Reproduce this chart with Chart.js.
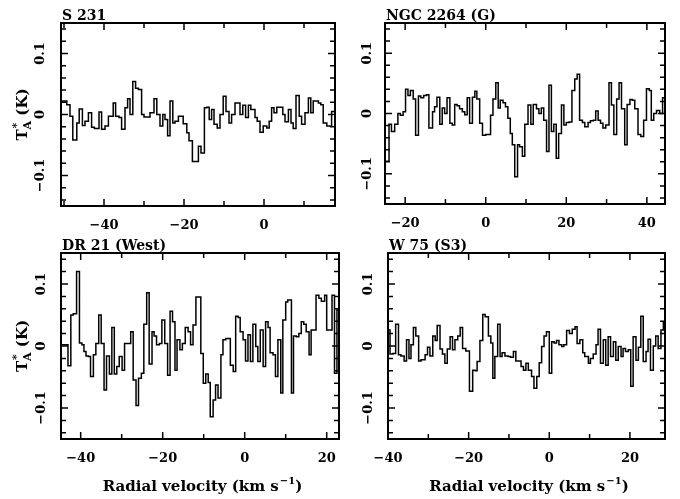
<!DOCTYPE html>
<html>
<head>
<meta charset="utf-8">
<script src="https://cdn.jsdelivr.net/npm/chart.js@4.4.1/dist/chart.umd.min.js"></script>
<style>
  html, body { margin: 0; padding: 0; background: #fff; }
  #wrap { position: relative; width: 680px; height: 499px; }
  canvas { position: absolute; left: 0; top: 0; }
</style>
</head>
<body>
<div id="wrap">
  <canvas id="c0" width="680" height="499"></canvas>
  <canvas id="c1" width="680" height="499"></canvas>
  <canvas id="c2" width="680" height="499"></canvas>
  <canvas id="c3" width="680" height="499"></canvas>
</div>
<script>
// Spectra: left edge of each channel (km/s) and antenna temperature (K)

// S 231
const s231Vel = [-50.75, -49.3, -48.5, -47.8, -46.8, -46.2, -45.4, -44.75, -43.9, -43.1,
  -42.4, -41.25, -40.6, -39.75, -38.9, -37.7, -37.1, -36.25, -35.6, -34.75,
  -34.1, -33.5, -32.8, -32.1, -31.4, -30.6, -30, -28.5, -27.5, -26.8,
  -26, -25.3, -24.75, -24.1, -23.5, -22.8, -22.25, -21.4, -20.75, -20.2,
  -19.3, -18.75, -17.9, -16.4, -15.75, -14.9, -14.3, -13.7, -13.1, -12.5,
  -11.7, -11, -10.2, -9.5, -8.75, -8.1, -7.25, -6, -5.3, -4.6,
  -3.9, -3.3, -2.25, -1.7, -1, -0.2, 0.7, 1.3, 1.9, 2.5,
  3.2, 4.7, 5.25, 6.1, 6.75, 7.3, 8, 8.8, 9.4, 10.25,
  11.1, 11.7, 12.3, 13.6, 14.2, 14.8, 15.7, 16.9];
const s231Ta = [0.022, 0.016, -0.003, -0.042, -0.014, 0.009, -0.018, -0.011, 0.003, -0.021,
  -0.023, 0.004, -0.024, -0.019, -0.003, 0.019, -0.003, -0.005, -0.024, 0.011,
  0.026, 0.000, 0.054, 0.043, 0.041, 0.000, -0.004, 0.003, 0.026, 0.000,
  -0.019, 0.000, -0.008, -0.035, 0.022, -0.014, -0.011, -0.003, -0.003, -0.015,
  -0.030, -0.043, -0.077, -0.052, -0.063, 0.011, 0.012, -0.008, 0.008, -0.016,
  -0.022, 0.000, 0.030, 0.005, -0.014, 0.000, 0.019, 0.000, 0.015, -0.005,
  0.015, 0.008, -0.005, -0.011, -0.029, -0.019, -0.022, -0.011, 0.011, 0.003,
  0.012, 0.000, -0.012, 0.008, -0.014, -0.023, 0.031, -0.003, -0.016, 0.003,
  0.027, 0.003, 0.022, 0.019, 0.016, -0.014, -0.019, 0.005];
const s231Ticks = [-40, -20, 0];

// NGC 2264 (G)
const ngcVel = [-25.0, -24.0, -23.4, -22.6, -21.8, -21.2, -20.5, -19.9, -19.3, -18.7,
  -18.0, -17.4, -16.7, -16.1, -15.4, -14.7, -14.1, -13.2, -12.7, -12.1,
  -11.4, -10.8, -10.2, -9.6, -8.9, -8.3, -7.7, -7.1, -6.5, -5.8,
  -5.2, -4.6, -4.0, -3.3, -2.7, -2.2, -1.5, -0.8, 0.0, 1.2,
  1.8, 2.5, 3.1, 3.6, 4.3, 4.9, 5.5, 6.1, 6.6, 7.2,
  7.9, 8.4, 9.1, 9.7, 10.5, 11.2, 11.8, 12.6, 13.2, 13.8,
  14.4, 15.1, 15.7, 16.3, 16.9, 17.5, 18.1, 18.8, 19.4, 20.0,
  20.7, 21.4, 22.1, 22.7, 23.3, 24.0, 24.6, 25.4, 26.0, 26.7,
  27.3, 27.9, 28.5, 29.1, 29.8, 30.6, 31.2, 31.8, 32.5, 33.1,
  33.7, 34.5, 35.1, 35.8, 36.4, 37.0, 37.8, 38.5, 39.2, 39.9,
  40.6, 41.1, 41.7, 42.4, 43.2, 43.9];
const ngcTa = [-0.079, -0.018, -0.030, -0.018, 0.000, -0.003, 0.003, 0.040, 0.030, 0.038,
  0.024, -0.036, 0.029, 0.026, 0.030, 0.031, -0.024, 0.003, 0.011, 0.027,
  -0.018, 0.009, 0.000, 0.026, -0.016, -0.019, 0.015, 0.013, 0.008, 0.003,
  -0.002, 0.026, -0.016, 0.027, 0.037, 0.024, -0.016, -0.036, -0.035, -0.003,
  0.024, 0.051, 0.009, 0.022, 0.018, 0.011, -0.008, -0.033, -0.052, -0.105,
  -0.052, -0.055, -0.071, -0.018, 0.014, -0.018, 0.015, 0.008, 0.000, 0.009,
  -0.011, -0.063, 0.047, -0.030, -0.018, -0.074, -0.033, 0.014, -0.019, -0.015,
  -0.014, 0.038, 0.057, 0.065, -0.011, -0.015, -0.022, -0.015, -0.012, -0.011,
  0.004, -0.011, -0.016, -0.024, -0.019, 0.051, 0.014, -0.035, 0.024, 0.051,
  0.008, -0.052, 0.015, 0.023, 0.022, 0.008, -0.035, -0.038, -0.011, 0.041,
  0.038, -0.011, 0.000, 0.005, 0.000, 0.026];
const ngcTicks = [-20, 0, 20, 40];

// DR 21 (West)
const dr21Vel = [-44.8, -43.1, -42.4, -41.8, -41.0, -40.3, -39.7, -39.2, -38.7, -38.1,
  -37.6, -36.9, -36.3, -35.6, -35.0, -34.3, -33.7, -33.0, -32.4, -31.8,
  -31.2, -30.6, -29.9, -29.3, -27.8, -27.2, -26.5, -25.9, -25.2, -24.6,
  -23.9, -23.3, -22.6, -22.1, -21.5, -20.8, -20.2, -19.5, -18.8, -18.2,
  -17.6, -17.0, -16.5, -15.8, -15.2, -14.5, -13.8, -13.2, -12.6, -11.9,
  -10.7, -10.1, -9.5, -8.9, -8.4, -7.7, -7.1, -6.5, -5.8, -5.3,
  -4.6, -3.5, -2.8, -2.2, -1.6, -1.1, -0.4, 0.2, 0.8, 1.4,
  2.0, 2.7, 3.2, 3.8, 4.5, 5.1, 5.7, 6.2, 6.9, 7.5,
  8.1, 8.8, 9.3, 10.0, 10.5, 11.4, 11.9, 12.6, 13.2, 13.8,
  14.4, 15.0, 15.7, 16.2, 16.8, 17.4, 18.1, 18.7, 19.5, 20.0,
  20.7, 21.3, 21.9, 22.5];
const dr21Ta = [0.002, -0.032, 0.050, 0.052, 0.120, 0.005, 0.002, -0.009, -0.016, -0.017,
  -0.049, -0.014, 0.004, 0.050, 0.004, -0.071, -0.016, -0.045, 0.030, -0.045,
  -0.033, -0.017, -0.039, 0.004, 0.023, -0.055, -0.096, -0.052, -0.044, 0.035,
  0.086, -0.029, 0.023, 0.016, 0.002, 0.004, 0.042, 0.004, -0.047, 0.056,
  0.039, -0.039, 0.010, -0.006, 0.004, 0.030, 0.023, 0.002, 0.034, 0.079,
  -0.012, -0.060, -0.045, -0.059, -0.114, -0.087, -0.063, -0.084, -0.014, 0.010,
  0.012, -0.031, -0.041, 0.048, 0.046, 0.023, 0.010, -0.024, 0.018, -0.025,
  0.035, -0.001, -0.025, 0.026, -0.033, 0.039, 0.030, -0.011, -0.014, -0.049,
  0.010, -0.076, 0.042, 0.071, 0.074, -0.076, 0.016, 0.015, 0.020, 0.039,
  0.035, 0.023, -0.014, 0.026, 0.026, 0.082, 0.077, 0.072, 0.082, 0.026,
  0.026, 0.082, -0.044, 0.058];
const dr21Ticks = [-40, -20, 0, 20];

// W 75 (S3)
const w75Vel = [-40.0, -39.5, -38.8, -38.1, -37.4, -36.8, -36.0, -35.4, -34.8, -34.3,
  -33.7, -33.1, -32.4, -31.8, -30.8, -30.2, -29.6, -28.9, -28.3, -27.8,
  -27.1, -26.5, -25.9, -25.3, -24.6, -24.0, -23.4, -22.7, -22.1, -21.5,
  -20.7, -19.8, -19.0, -18.4, -17.9, -17.2, -16.5, -15.9, -15.1, -14.5,
  -14.0, -13.5, -12.8, -12.2, -11.7, -11.0, -10.2, -9.6, -8.9, -8.3,
  -7.7, -7.0, -6.4, -5.8, -5.2, -4.4, -3.8, -3.1, -2.5, -1.9,
  -1.3, -0.7, 0.0, 0.6, 1.2, 1.8, 2.4, 3.1, 3.6, 4.3,
  5.0, 5.7, 6.4, 6.9, 7.6, 8.3, 8.8, 9.7, 10.2, 10.9,
  11.6, 12.1, 12.7, 13.4, 14.0, 14.6, 15.2, 15.9, 16.5, 17.1,
  17.8, 18.3, 18.9, 19.6, 20.2, 20.8, 21.5, 22.1, 22.7, 23.3,
  24.0, 24.5, 25.1, 25.8, 26.4, 27.0, 27.7, 28.3];
const w75Ta = [0.026, -0.013, -0.012, 0.035, -0.014, -0.016, -0.024, 0.010, -0.020, 0.002,
  0.030, 0.016, -0.024, -0.022, -0.014, -0.002, -0.016, 0.016, 0.009, 0.033,
  -0.005, -0.013, -0.028, -0.005, 0.015, -0.006, 0.010, 0.016, 0.030, -0.004,
  -0.008, -0.073, -0.039, -0.040, -0.025, 0.009, 0.051, 0.047, 0.016, 0.005,
  -0.052, -0.017, 0.035, -0.017, -0.011, -0.016, -0.017, -0.018, -0.009, -0.024,
  -0.024, -0.033, -0.039, -0.028, -0.039, -0.049, -0.068, -0.049, -0.027, -0.001,
  0.016, 0.023, -0.044, 0.007, 0.005, 0.009, 0.002, -0.001, 0.002, 0.025,
  0.020, 0.027, 0.031, 0.004, 0.010, -0.011, -0.017, -0.028, -0.020, -0.013,
  0.002, 0.027, -0.028, 0.010, -0.031, 0.015, -0.017, 0.007, -0.023, -0.001,
  -0.017, -0.004, -0.009, -0.006, -0.065, 0.015, -0.023, -0.002, 0.048, -0.025,
  -0.009, 0.011, -0.039, 0.000, 0.016, -0.004, 0.026, 0.039];
const w75Ticks = [-40, -20, 0, 20];

const tempTicks = [-0.1, 0, 0.1];

/**********************************************************************************
 * PANELS
 *********************************************************************************/

const FONT = '"DejaVu Serif", "Liberation Serif", serif';
const W = 680, H = 499;

// box = [left, top, right, bottom] of the plot frame in page pixels
const panels = [
  { id: 'c0', title: 'S 231', vel: s231Vel, ta: s231Ta, xMin: -50.75, xMax: 17.75,
    xTicks: s231Ticks, box: [61, 23, 335, 206], yTitle: true, xTitle: false, yGap: 20 },
  { id: 'c1', title: 'NGC 2264 (G)', vel: ngcVel, ta: ngcTa, xMin: -25.0, xMax: 44.5,
    xTicks: ngcTicks, box: [385, 23, 665, 204], yTitle: false, xTitle: false, yGap: 17 },
  { id: 'c2', title: 'DR 21 (West)', vel: dr21Vel, ta: dr21Ta, xMin: -44.8, xMax: 23.0,
    xTicks: dr21Ticks, box: [61, 253, 339, 439], yTitle: true, xTitle: true, yGap: 19 },
  { id: 'c3', title: 'W 75 (S3)', vel: w75Vel, ta: w75Ta, xMin: -40.0, xMax: 28.7,
    xTicks: w75Ticks, box: [388, 253, 665, 439], yTitle: false, xTitle: true, yGap: 19 }
];

function fmt(v) {
    return v < 0 ? '\u2212' + Math.abs(v) : String(v);
}

// frame, inward ticks, tick labels and titles
const framePlugin = {
    id: 'frame',
    afterDatasetsDraw(chart, args, o) {
        const ctx = chart.ctx;
        const a = chart.chartArea;
        const xs = chart.scales.x, ys = chart.scales.y;
        ctx.save();
        ctx.strokeStyle = '#000';
        ctx.fillStyle = '#000';

        ctx.lineWidth = 1.5;
        ctx.beginPath();
        // x ticks every 10 km/s, longer at labelled ones
        for (let v = Math.ceil(xs.min / 10) * 10; v <= xs.max; v += 10) {
            const px = xs.getPixelForValue(v);
            const len = o.xTicks.includes(v) ? 7 : 5;
            ctx.moveTo(px, a.bottom); ctx.lineTo(px, a.bottom - len);
            ctx.moveTo(px, a.top); ctx.lineTo(px, a.top + len);
        }
        // y ticks every 0.02 K
        for (let k = -7; k <= 7; k++) {
            const py = ys.getPixelForValue(k * 0.02);
            const len = (k % 5 === 0) ? 7 : 5;
            ctx.moveTo(a.left, py); ctx.lineTo(a.left + len, py);
            ctx.moveTo(a.right, py); ctx.lineTo(a.right - len, py);
        }
        ctx.stroke();

        ctx.lineWidth = 2;
        ctx.strokeRect(a.left, a.top, a.right - a.left, a.bottom - a.top);

        // x tick labels
        ctx.font = 'bold 13px ' + FONT;
        ctx.textAlign = 'center';
        ctx.textBaseline = 'middle';
        o.xTicks.forEach(v => {
            ctx.fillText(fmt(v), xs.getPixelForValue(v), a.bottom + 20);
        });

        // y tick labels, rotated
        tempTicks.forEach(v => {
            ctx.save();
            ctx.translate(a.left - o.yGap, ys.getPixelForValue(v));
            ctx.rotate(-Math.PI / 2);
            ctx.fillText(fmt(v), 0, 0);
            ctx.restore();
        });

        // panel title
        ctx.font = 'bold 14px ' + FONT;
        ctx.textAlign = 'left';
        ctx.textBaseline = 'alphabetic';
        ctx.fillText(o.title, a.left + 1, a.top - 3);

        // y axis title: T_A* (K)
        if (o.yTitle) {
            const big = 'bold 15px ' + FONT, small = 'bold 11px ' + FONT;
            ctx.font = big; const wT = ctx.measureText('T').width;
            const wK = ctx.measureText(' (K)').width;
            ctx.font = small; const wA = ctx.measureText('A').width;
            const total = wT + wA + wK;
            ctx.save();
            ctx.translate(23, (a.top + a.bottom) / 2);
            ctx.rotate(-Math.PI / 2);
            let x = -total / 2;
            ctx.textAlign = 'left';
            ctx.textBaseline = 'middle';
            ctx.font = big; ctx.fillText('T', x, 0); x += wT;
            ctx.font = small; ctx.fillText('A', x, 5); ctx.fillText('*', x + 1, -6); x += wA;
            ctx.font = big; ctx.fillText(' (K)', x, 0);
            ctx.restore();
        }

        // x axis title
        if (o.xTitle) {
            const big = 'bold 15px ' + FONT, small = 'bold 10px ' + FONT;
            const p1 = 'Radial velocity (km s', p2 = '\u22121', p3 = ')';
            ctx.font = big; const w1 = ctx.measureText(p1).width, w3 = ctx.measureText(p3).width;
            ctx.font = small; const w2 = ctx.measureText(p2).width;
            let x = (a.left + a.right) / 2 + 2 - (w1 + w2 + w3) / 2;
            const y = 491;
            ctx.textAlign = 'left';
            ctx.font = big; ctx.fillText(p1, x, y); x += w1;
            ctx.font = small; ctx.fillText(p2, x + 1, y - 7); x += w2 + 1;
            ctx.font = big; ctx.fillText(p3, x, y);
        }
        ctx.restore();
    }
};

panels.forEach(p => {
    const points = p.vel.map((v, i) => ({ x: v, y: p.ta[i] }));
    // close the last channel at the right edge
    points.push({ x: p.xMax, y: p.ta[p.ta.length - 1] });

    new Chart(document.getElementById(p.id), {
        type: 'line',
        data: {
            datasets: [{
                data: points,
                stepped: true,
                borderColor: '#000',
                borderWidth: 1.5,
                pointRadius: 0,
                fill: false
            }]
        },
        options: {
            responsive: false,
            animation: false,
            events: [],
            layout: {
                padding: { left: p.box[0], top: p.box[1], right: W - p.box[2], bottom: H - p.box[3] }
            },
            scales: {
                x: { type: 'linear', min: p.xMin, max: p.xMax, display: false },
                y: { type: 'linear', min: -0.15, max: 0.15, display: false }
            },
            plugins: {
                legend: { display: false },
                tooltip: { enabled: false },
                frame: { title: p.title, xTicks: p.xTicks, yTitle: p.yTitle, xTitle: p.xTitle, yGap: p.yGap }
            }
        },
        plugins: [framePlugin]
    });
});
</script>
</body>
</html>
